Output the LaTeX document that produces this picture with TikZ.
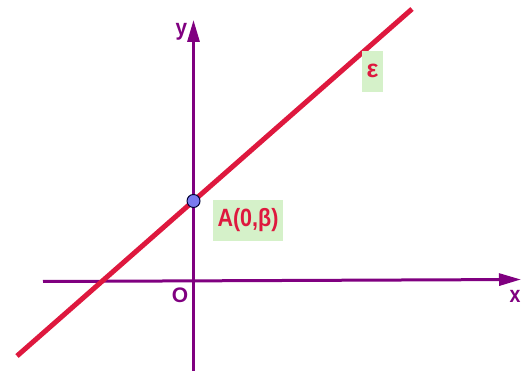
\documentclass[tikz,border=0pt]{standalone}
\usepackage{fontspec}
\setmainfont{Liberation Sans}
\usetikzlibrary{arrows.meta}
\definecolor{axispurple}{RGB}{128,0,128}
\definecolor{linered}{RGB}{222,24,62}
\definecolor{boxgreen}{RGB}{213,241,201}
\definecolor{ptblue}{RGB}{122,122,240}
\tikzset{
  axis/.style={draw=axispurple, line width=3pt, -{Triangle[length=22pt,width=12pt]}},
  eline/.style={draw=linered, line width=5pt},
  axlabel/.style={text=axispurple, inner sep=0pt, anchor=base, font=\bfseries\fontsize{23}{23}\selectfont},
  labelbox/.style={fill=boxgreen, inner sep=0pt, text=linered, font=\bfseries\fontsize{25}{25}\selectfont},
  ptstyle/.style={circle, fill=ptblue, draw=black!80!blue, line width=1pt, minimum size=13pt, inner sep=0pt}
}
\begin{document}
\begin{tikzpicture}[x=1pt,y=-1pt]
\useasboundingbox (0,0) rectangle (530,371);
\coordinate (ybot) at (193.5,371);
\coordinate (ytop) at (193.5,20);
\coordinate (xl) at (43,281.5);
\coordinate (xr) at (521,279.5);
\coordinate (e1) at (17,356);
\coordinate (e2) at (412,9);
\draw[axis] (xl) -- (xr);
\draw[axis] (ybot) -- (ytop);
\draw[eline] (e1) -- (e2);
\node[ptstyle] (A) at (intersection of e1--e2 and ybot--ytop) {};
\node[labelbox, minimum width=70pt, minimum height=41pt, text height=18pt, text depth=5pt] (Alab) at (248,220.5) {\scalebox{0.86}[1]{A(0,β)}};
\node[labelbox, minimum width=21pt, minimum height=41pt, text height=13pt, text depth=0pt] (elab) at (372.5,71.5) {ε};
\node[axlabel] (ylab) at (181.5,36) {\scalebox{0.9}[1]{y}};
\node[axlabel] (xlab) at (515,303) {\scalebox{0.85}[1]{x}};
\node[axlabel, font=\bfseries\fontsize{21}{21}\selectfont] (olab) at (180,302) {O};
\end{tikzpicture}
\end{document}
